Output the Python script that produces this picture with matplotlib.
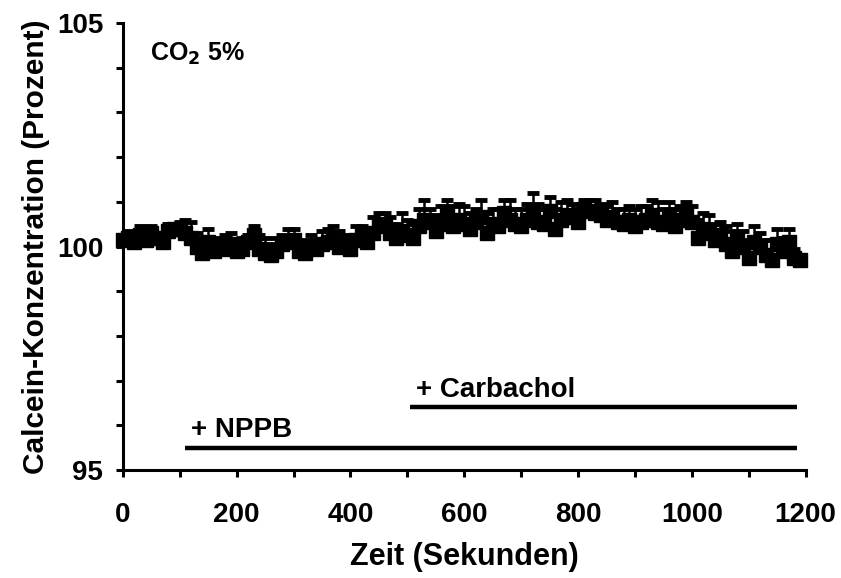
import numpy as np
import matplotlib
matplotlib.use("Agg")
import matplotlib.pyplot as plt

plt.rcParams['font.family'] = ['Liberation Sans', 'DejaVu Sans']
plt.rcParams['font.weight'] = 'bold'

# time points in seconds (one every 10 s)
zeit = list(range(0, 1200, 10))

# calcein concentration in percent
calcein = [
    100.15, 100.2, 100.1, 100.25, 100.15, 100.3, 100.2, 100.1, 100.35, 100.4,
    100.4, 100.3, 100.2, 100.0, 99.85, 100.1, 99.9, 100.0, 99.95, 100.05,
    99.9, 99.95, 100.1, 100.25, 99.95, 99.85, 99.8, 99.9, 100.05, 100.1,
    100.15, 99.9, 99.85, 100.0, 99.95, 100.05, 100.1, 100.2, 100.0, 100.05,
    99.95, 100.15, 100.25, 100.1, 100.3, 100.45, 100.5, 100.3, 100.2, 100.35,
    100.25, 100.2, 100.45, 100.6, 100.55, 100.35, 100.5, 100.7, 100.45, 100.6,
    100.5, 100.4, 100.55, 100.65, 100.3, 100.5, 100.45, 100.75, 100.6, 100.5,
    100.45, 100.6, 100.75, 100.55, 100.5, 100.8, 100.4, 100.6, 100.7, 100.65,
    100.55, 100.85, 100.8, 100.75, 100.7, 100.6, 100.65, 100.55, 100.5, 100.6,
    100.45, 100.55, 100.6, 100.7, 100.55, 100.5, 100.7, 100.45, 100.6, 100.75,
    100.55, 100.2, 100.4, 100.3, 100.15, 100.25, 100.05, 99.9, 100.2, 100.0,
    99.75, 100.1, 100.0, 99.8, 99.7, 100.05, 99.9, 100.1, 99.75, 99.7,
]

# standard error (upper bar only visible)
fehler = [
    0.1, 0.15, 0.1, 0.2, 0.1, 0.15, 0.1, 0.2, 0.15, 0.1,
    0.15, 0.3, 0.35, 0.3, 0.35, 0.3, 0.25, 0.2, 0.3, 0.25,
    0.2, 0.25, 0.15, 0.2, 0.3, 0.35, 0.25, 0.3, 0.2, 0.3,
    0.25, 0.2, 0.3, 0.25, 0.2, 0.3, 0.3, 0.25, 0.35, 0.2,
    0.25, 0.3, 0.2, 0.3, 0.35, 0.3, 0.25, 0.35, 0.3, 0.4,
    0.35, 0.3, 0.4, 0.45, 0.3, 0.35, 0.4, 0.35, 0.45, 0.35,
    0.4, 0.35, 0.3, 0.4, 0.45, 0.35, 0.4, 0.3, 0.45, 0.35,
    0.4, 0.35, 0.45, 0.4, 0.35, 0.3, 0.45, 0.4, 0.35, 0.3,
    0.3, 0.2, 0.25, 0.3, 0.25, 0.3, 0.35, 0.3, 0.35, 0.3,
    0.4, 0.35, 0.3, 0.35, 0.45, 0.35, 0.3, 0.4, 0.3, 0.25,
    0.35, 0.4, 0.35, 0.4, 0.35, 0.3, 0.4, 0.45, 0.3, 0.35,
    0.4, 0.35, 0.3, 0.35, 0.45, 0.35, 0.3, 0.3, 0.2, 0.1,
]

# treatment bars: (label, start, end, y)
zugaben = [
    ('+ NPPB', 110, 1185, 95.5),
    ('+ Carbachol', 505, 1185, 96.4),
]

fig = plt.figure(figsize=(8.41, 5.78), dpi=100)
ax = fig.add_axes([0.146, 0.187, 0.812, 0.773])

untere = [0] * len(fehler)
ax.errorbar(zeit, calcein, yerr=[untere, fehler], fmt='s', color='black',
            markersize=10.5, elinewidth=1.8, capsize=4.5, capthick=3.5,
            clip_on=False, zorder=3)

for name, start, ende, y in zugaben:
    ax.plot([start, ende], [y, y], color='black', linewidth=3.2,
            solid_capstyle='butt')
    ax.text(start + 10, y + 0.1, name, fontsize=20, fontweight='bold',
            ha='left', va='bottom')

ax.text(47, 104.3, 'CO$_\\mathbf{2}$ 5%', fontsize=18, fontweight='bold',
        ha='left', va='center')

ax.set_xlim(0, 1200)
ax.set_ylim(95, 105)
ax.set_xticks(range(0, 1201, 200))
ax.set_xticks(range(0, 1201, 100), minor=True)
ax.set_yticks([95, 100, 105])
ax.set_yticks(range(95, 106), minor=True)

for side in ['top', 'right']:
    ax.spines[side].set_visible(False)
for side in ['left', 'bottom']:
    ax.spines[side].set_linewidth(2.2)

ax.tick_params(which='both', direction='out', length=5, width=2.2)
ax.tick_params(axis='both', labelsize=20)
ax.tick_params(axis='x', pad=18)
ax.tick_params(axis='y', pad=9)
for lab in ax.get_xticklabels() + ax.get_yticklabels():
    lab.set_fontweight('bold')

ax.set_xlabel('Zeit (Sekunden)', fontsize=22, fontweight='bold', labelpad=10)
ax.set_ylabel('Calcein-Konzentration (Prozent)', fontsize=21.5,
              fontweight='bold', labelpad=5)

fig.savefig('out.png', dpi=100)
